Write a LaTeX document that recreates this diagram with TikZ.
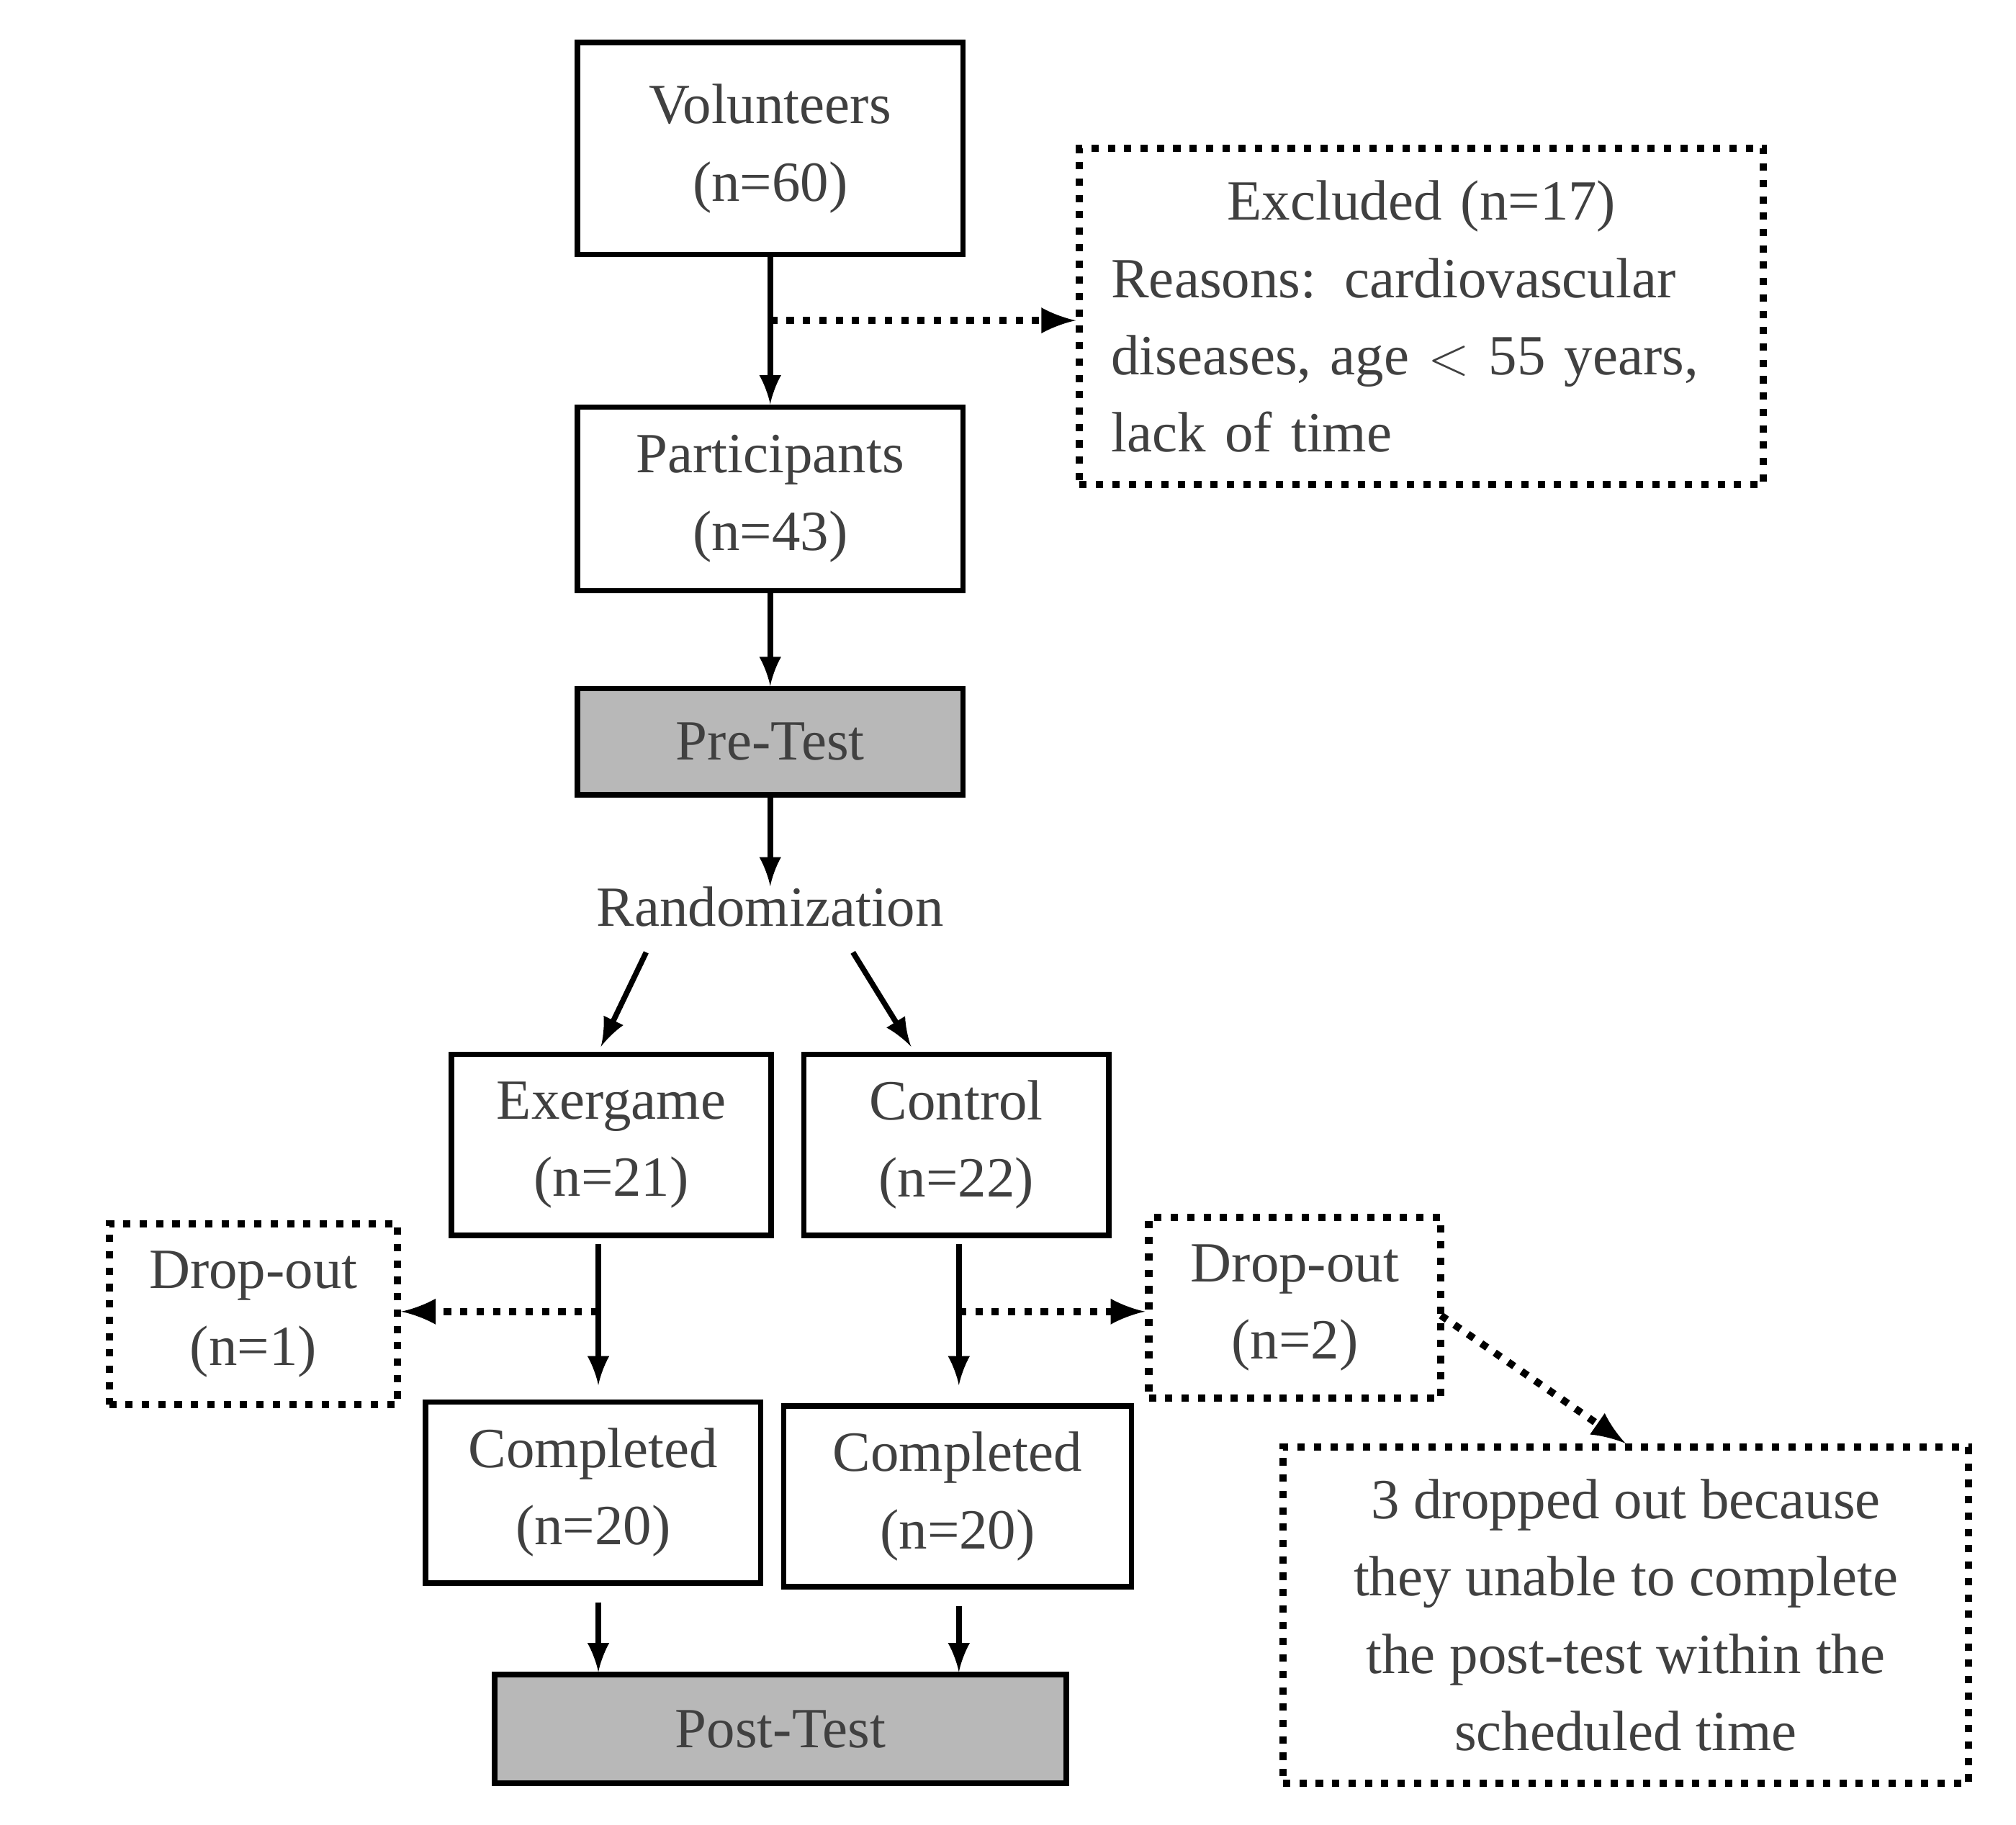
\documentclass[tikz,border=0pt]{standalone}
\usepackage{fontspec}
\setmainfont{Liberation Serif}
\begin{document}
\begin{tikzpicture}[
        x=0.01cm, y=-0.01cm,
        basic/.style = {align=center, font=\fontsize{12.5}{17}\selectfont, text=black!75, inner sep=0pt},
        box/.style = {basic, draw, line width=1.2pt},
        gray box/.style = {box, fill=black!28},
        dots box/.style = {basic, draw, line width=1.6pt, dotted},
        flow/.style = {->, line width=1.2pt},
        side/.style = {->, line width=1.6pt, dotted},
        >=latex]
    \useasboundingbox (0,0) rectangle (1560,1412);
    \node[box, minimum width=2.98cm, minimum height=1.64cm] (volunteers) at (596,115) {Volunteers\\(n=60)};
    \node[dots box, minimum width=5.29cm, minimum height=2.6cm, align=left, text width=4.8cm] (excluded) at (1100,245)
        {\centering Excluded (n=17)\\\raggedright Reasons: cardiovascular\\diseases, age $<$ 55 years,\\lack of time};
    \node[box, minimum width=2.98cm, minimum height=1.42cm] (participants) at (596,386) {Participants\\(n=43)};
    \node[gray box, minimum width=2.98cm, minimum height=0.82cm] (pretest) at (596,574) {Pre-Test};
    \node[basic] (random) at (596,702) {Randomization};
    \node[box, minimum width=2.47cm, minimum height=1.4cm] (exergame) at (473,886) {Exergame\\(n=21)};
    \node[box, minimum width=2.36cm, minimum height=1.4cm] (control) at (740,886) {Control\\(n=22)};
    \node[dots box, minimum width=2.23cm, minimum height=1.4cm] (dropA) at (196,1017) {Drop-out\\(n=1)};
    \node[dots box, minimum width=2.26cm, minimum height=1.4cm] (dropB) at (1002,1012) {Drop-out\\(n=2)};
    \node[box, minimum width=2.59cm, minimum height=1.4cm] (doneA) at (459,1155) {Completed\\(n=20)};
    \node[box, minimum width=2.69cm, minimum height=1.4cm] (doneB) at (741,1158) {Completed\\(n=20)};
    \node[gray box, minimum width=4.42cm, minimum height=0.84cm] (posttest) at (604,1338) {Post-Test};
    \node[dots box, minimum width=5.3cm, minimum height=2.6cm] (note) at (1258,1250)
        {3 dropped out because\\they unable to complete\\the post-test within the\\scheduled time};
    % main flow
    \draw[flow] (volunteers) -- (participants);
    \coordinate (split) at (596,248);
    \draw[side] (split) -- (excluded.west |- split);
    \draw[flow] (participants) -- (pretest);
    \draw[flow] (pretest) -- (random);
    \draw[flow] (500,737) -- (465,810);
    \draw[flow] (660,737) -- (705,810);
    \draw[flow] (463,963) -- (463,1072);
    \draw[flow] (742,963) -- (742,1072);
    \coordinate (splitA) at (463,1015);
    \coordinate (splitB) at (742,1015);
    \draw[side] (splitA) -- (dropA.east |- splitA);
    \draw[side] (splitB) -- (dropB.west |- splitB);
    \draw[side] (1115,1018) -- (note.north);
    \draw[flow] (463,1240) -- (463,1294);
    \draw[flow] (742,1243) -- (742,1294);
\end{tikzpicture}
\end{document}
